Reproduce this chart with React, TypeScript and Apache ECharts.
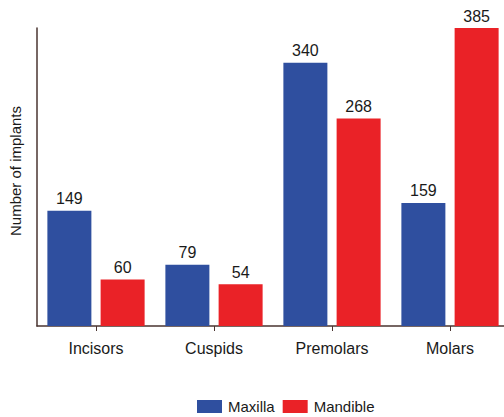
import React, { useEffect, useRef } from "react";
import * as echarts from "echarts";

const categories = ["Incisors", "Cuspids", "Premolars", "Molars"];
const maxilla = [149, 79, 340, 159];
const mandible = [60, 54, 268, 385];
const seriesNames = ["Maxilla", "Mandible"];

export default function App() {
  const ref = useRef<HTMLDivElement>(null);
  useEffect(() => {
    if (!ref.current) return;
    const chart = echarts.init(ref.current, null, { renderer: "svg" });
    const font = "Liberation Sans, Arial, sans-serif";
    const labelStyle = {
      show: true,
      position: "top" as const,
      distance: 4,
      fontSize: 16,
      color: "#1a1a1a",
      fontFamily: font,
    };
    chart.setOption({
      animation: false,
      backgroundColor: "#ffffff",
      textStyle: { fontFamily: font },
      grid: {
        left: 37,
        top: 28,
        width: 472,
        bottom: 91,
        containLabel: false,
        outerBoundsMode: "none",
      },
      legend: {
        left: 197,
        top: 399,
        padding: 0,
        itemWidth: 25,
        itemHeight: 13,
        itemGap: 8,
        icon: "rect",
        textStyle: { fontSize: 15, color: "#1a1a1a", fontFamily: font, padding: [0, 0, 0, 1] },
        data: seriesNames,
      },
      xAxis: {
        type: "category",
        data: categories,
        axisLine: { show: true, lineStyle: { color: "#4a3430", width: 1.5 } },
        axisTick: { show: true, alignWithLabel: true, length: 5, lineStyle: { color: "#4a3430" } },
        axisLabel: { fontSize: 16, color: "#1a1a1a", margin: 14, fontFamily: font },
      },
      yAxis: {
        type: "value",
        min: 0,
        max: 385,
        name: "Number of implants",
        nameLocation: "middle",
        nameGap: 14,
        nameTextStyle: { fontSize: 15, color: "#1a1a1a", fontFamily: font, padding: [0, 0, 0, 12] },
        axisLine: { show: true, lineStyle: { color: "#4a3430", width: 1.5 } },
        axisTick: { show: false },
        axisLabel: { show: false },
        splitLine: { show: false },
      },
      series: [
        {
          name: seriesNames[0],
          type: "bar",
          data: maxilla,
          barWidth: 44,
          barGap: "21%",
          itemStyle: { color: "#2f4f9f" },
          label: labelStyle,
        },
        {
          name: seriesNames[1],
          type: "bar",
          data: mandible,
          barWidth: 44,
          itemStyle: { color: "#ea2227" },
          label: labelStyle,
        },
      ],
    });
    return () => chart.dispose();
  }, []);
  return (
    <div
      ref={ref}
      style={{ position: "fixed", left: 0, top: 0, width: 504, height: 417 }}
    />
  );
}
